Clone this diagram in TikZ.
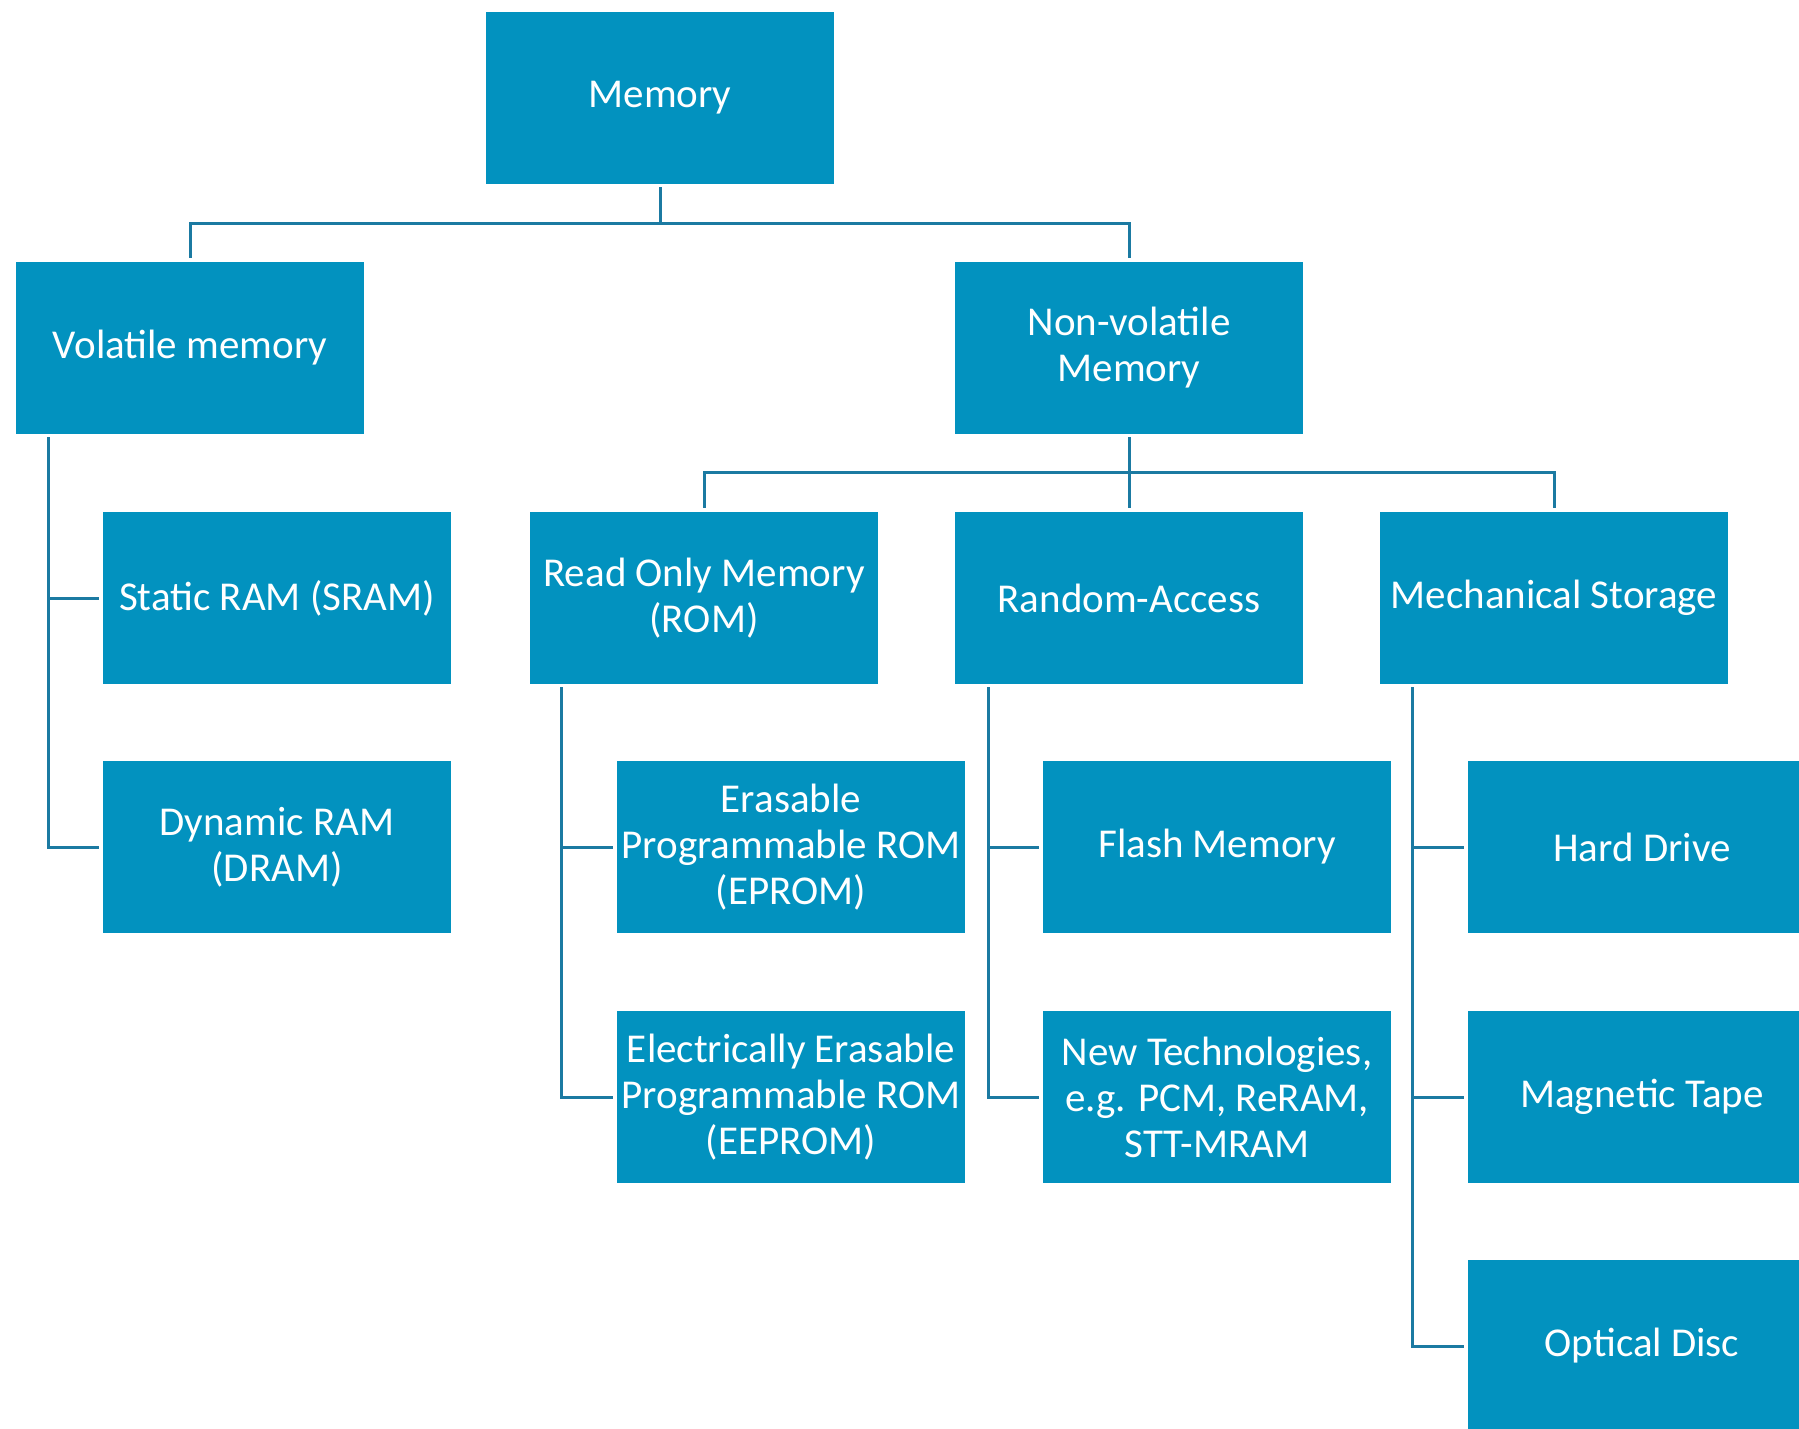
\documentclass[tikz,border=0pt]{standalone}
\usepackage{fontspec}
\setmainfont{Carlito}
\usetikzlibrary{calc}
\definecolor{boxblue}{HTML}{0292BF}
\definecolor{linecol}{HTML}{1B7AA2}
\begin{document}
\begin{tikzpicture}[x=1pt,y=-1pt,
  box/.style={rectangle, fill=boxblue, draw=none, text=white, align=center,
    minimum width=348pt, minimum height=172pt, inner sep=0pt,
    font=\fontsize{41}{46}\selectfont},
  conn/.style={draw=linecol, line width=3pt, shorten <=3pt, shorten >=4pt}]
\useasboundingbox (0,0) rectangle (1799,1428);
\clip (0,0) rectangle (1799,1428);
\fill[white] (0,0) rectangle (1799,1428);
% nodes
\node[box] (mem)  at (660,98)   {Memory};
\node[box] (vol)  at (190,348)  {Volatile memory};
\node[box] (nv)   at (1129,348) {Non-volatile\\Memory};
\node[box] (sram) at (277,598)  {Static RAM (SRAM)};
\node[box] (dram) at (277,847)  {Dynamic RAM\\(DRAM)};
\node[box] (rom)  at (704,598)  {Read Only Memory\\(ROM)};
\node[box] (ra)   at (1129,598) {Random-Access};
\node[box] (mech) at (1554,598) {Mechanical Storage};
\node[box] (eprom) at (791,847) {Erasable\\Programmable ROM\\(EPROM)};
\node[box] (eeprom) at (791,1097) {Electrically Erasable\\Programmable ROM\\(EEPROM)};
\node[box] (flash) at (1217,847) {Flash Memory};
\node[box] (newt)  at (1217,1097) {New Technologies,\\e.g. PCM, ReRAM,\\STT-MRAM};
\node[box] (hd)    at (1642,847) {Hard Drive};
\node[box] (tape)  at (1642,1097) {Magnetic Tape};
\node[box] (opt)   at (1642,1346) {Optical Disc};
% top level
\draw[conn] (mem.south) -- ++(0,39) -| (vol.north);
\draw[conn] (mem.south) -- ++(0,39) -| (nv.north);
% non-volatile children
\draw[conn] (nv.south) -- ++(0,38) -| (rom.north);
\draw[conn] (nv.south) -- (ra.north);
\draw[conn] (nv.south) -- ++(0,38) -| (mech.north);
% volatile children
\draw[conn] ($(vol.south west)+(33,0)$) |- (sram.west);
\draw[conn] ($(vol.south west)+(33,0)$) |- (dram.west);
% ROM children
\draw[conn] ($(rom.south west)+(32,0)$) |- (eprom.west);
\draw[conn] ($(rom.south west)+(32,0)$) |- (eeprom.west);
% RA children
\draw[conn] ($(ra.south west)+(34,0)$) |- (flash.west);
\draw[conn] ($(ra.south west)+(34,0)$) |- (newt.west);
% Mechanical children
\draw[conn] ($(mech.south west)+(33,0)$) |- (hd.west);
\draw[conn] ($(mech.south west)+(33,0)$) |- (tape.west);
\draw[conn] ($(mech.south west)+(33,0)$) |- (opt.west);
\end{tikzpicture}
\end{document}
